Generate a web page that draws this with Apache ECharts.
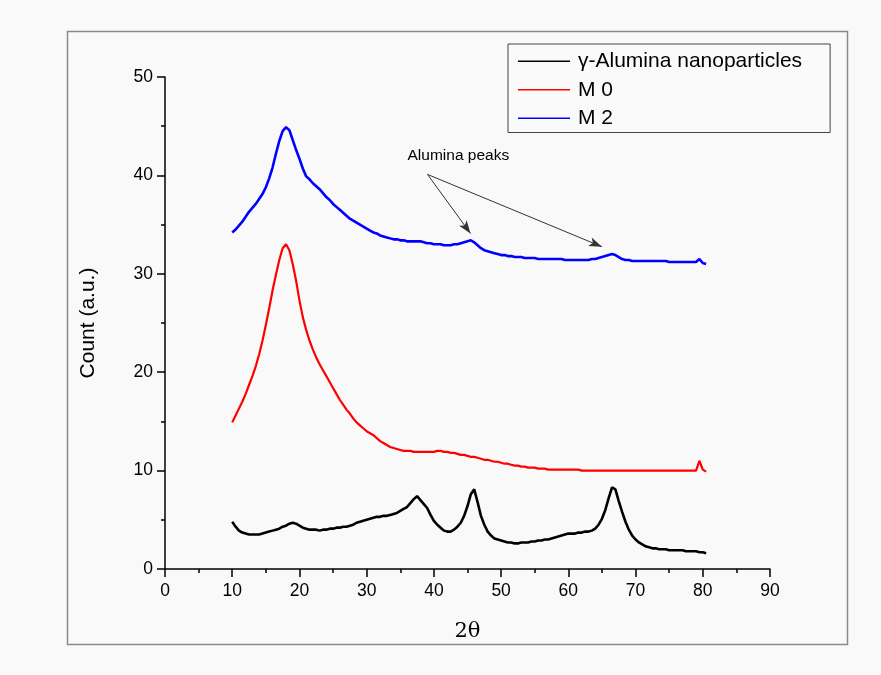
<!DOCTYPE html>
<html>
<head>
<meta charset="utf-8">
<script src="https://cdn.jsdelivr.net/npm/echarts@6/dist/echarts.min.js"></script>
<style>
html,body{margin:0;padding:0;background:#f9f9f9;}
#chart{width:881px;height:675px;}
</style>
</head>
<body>
<div id="chart"></div>
<script>
var twoTheta = [10,10.5,11,11.5,12,12.5,13,13.5,14,14.5,15,15.5,16,16.5,17,17.5,18,18.5,19,19.5,20,20.5,21,21.5,22,22.5,23,23.5,24,24.5,25,25.5,26,26.5,27,27.5,28,28.5,29,29.5,30,30.5,31,31.5,32,32.5,33,33.5,34,34.5,35,35.5,36,36.5,37,37.5,38,38.5,39,39.5,40,40.5,41,41.5,42,42.5,43,43.5,44,44.5,45,45.5,46,46.5,47,47.5,48,48.5,49,49.5,50,50.5,51,51.5,52,52.5,53,53.5,54,54.5,55,55.5,56,56.5,57,57.5,58,58.5,59,59.5,60,60.5,61,61.5,62,62.5,63,63.5,64,64.5,65,65.5,66,66.5,67,67.5,68,68.5,69,69.5,70,70.5,71,71.5,72,72.5,73,73.5,74,74.5,75,75.5,76,76.5,77,77.5,78,78.5,79,79.5,80,80.5];

var gammaAlumina = [4.8,4.3,3.9,3.7,3.6,3.5,3.5,3.5,3.5,3.6,3.7,3.8,3.9,4.0,4.1,4.3,4.4,4.6,4.7,4.6,4.4,4.2,4.1,4.0,4.0,4.0,3.9,4.0,4.0,4.1,4.1,4.2,4.2,4.3,4.3,4.4,4.5,4.7,4.8,4.9,5.0,5.1,5.2,5.3,5.3,5.4,5.4,5.5,5.6,5.7,5.9,6.1,6.3,6.7,7.1,7.4,7.0,6.6,6.2,5.5,4.9,4.5,4.2,3.9,3.8,3.8,4.0,4.3,4.7,5.4,6.4,7.6,8.1,6.8,5.4,4.5,3.8,3.4,3.1,3.0,2.9,2.8,2.7,2.7,2.6,2.6,2.7,2.7,2.7,2.8,2.8,2.9,2.9,3.0,3.0,3.1,3.2,3.3,3.4,3.5,3.6,3.6,3.6,3.7,3.7,3.8,3.8,3.9,4.1,4.5,5.1,6.0,7.2,8.3,8.1,6.9,5.8,4.8,4.0,3.4,3.0,2.7,2.5,2.3,2.2,2.1,2.1,2.0,2.0,2.0,1.9,1.9,1.9,1.9,1.9,1.8,1.8,1.8,1.8,1.7,1.7,1.6];

var m0 = [14.9,15.6,16.3,17.0,17.8,18.7,19.6,20.6,21.8,23.2,24.8,26.5,28.3,29.9,31.4,32.6,33.0,32.4,31.0,29.3,27.3,25.6,24.3,23.2,22.3,21.5,20.8,20.2,19.6,19.0,18.4,17.8,17.2,16.7,16.2,15.8,15.3,14.9,14.6,14.3,14.0,13.8,13.6,13.3,13.0,12.8,12.6,12.4,12.3,12.2,12.1,12.0,12.0,12.0,11.9,11.9,11.9,11.9,11.9,11.9,11.9,12.0,12.0,11.9,11.9,11.8,11.8,11.7,11.6,11.6,11.5,11.4,11.4,11.3,11.2,11.1,11.1,11.0,10.9,10.9,10.8,10.7,10.7,10.6,10.5,10.5,10.4,10.4,10.3,10.3,10.3,10.2,10.2,10.2,10.1,10.1,10.1,10.1,10.1,10.1,10.1,10.1,10.1,10.1,10.0,10.0,10.0,10.0,10.0,10.0,10.0,10.0,10.0,10.0,10.0,10.0,10.0,10.0,10.0,10.0,10.0,10.0,10.0,10.0,10.0,10.0,10.0,10.0,10.0,10.0,10.0,10.0,10.0,10.0,10.0,10.0,10.0,10.0,10.0,11.0,10.1,9.9];

var m2 = [34.2,34.5,34.9,35.3,35.8,36.3,36.7,37.1,37.6,38.1,38.8,39.7,40.8,42.2,43.5,44.5,44.9,44.6,43.6,42.6,41.7,40.7,39.9,39.6,39.2,38.9,38.6,38.2,37.8,37.5,37.1,36.8,36.5,36.2,35.9,35.6,35.4,35.2,35.0,34.8,34.6,34.4,34.2,34.1,33.9,33.8,33.7,33.6,33.5,33.5,33.4,33.4,33.3,33.3,33.3,33.3,33.3,33.2,33.1,33.1,33.0,33.0,33.0,32.9,32.9,32.9,33.0,33.0,33.1,33.2,33.3,33.4,33.2,32.9,32.6,32.4,32.3,32.2,32.1,32.0,31.9,31.9,31.8,31.8,31.7,31.7,31.7,31.6,31.6,31.6,31.6,31.5,31.5,31.5,31.5,31.5,31.5,31.5,31.5,31.4,31.4,31.4,31.4,31.4,31.4,31.4,31.4,31.5,31.5,31.6,31.7,31.8,31.9,32.0,31.9,31.7,31.5,31.4,31.4,31.3,31.3,31.3,31.3,31.3,31.3,31.3,31.3,31.3,31.3,31.3,31.2,31.2,31.2,31.2,31.2,31.2,31.2,31.2,31.2,31.5,31.1,31.0];

var seriesNames = ['\u03b3-Alumina nanoparticles', 'M 0', 'M 2'];
var xTicks = [0,10,20,30,40,50,60,70,80,90];
var yTicks = [0,10,20,30,40,50];
var annotationText = 'Alumina peaks';
var arrowFrom = [39.05, 40.1];
var arrowTips = [[45.45, 34.1], [65.0, 32.75]];

function pairs(xs, ys){ var out=[]; for (var i=0;i<xs.length;i++) out.push([xs[i], ys[i]]); return out; }

var chart = echarts.init(document.getElementById('chart'), null, {renderer:'canvas'});
var font = 'Liberation Sans, Arial, sans-serif';

var option = {
  backgroundColor: '#f9f9f9',
  animation: false,
  textStyle: {fontFamily: font},
  grid: {left: 165, right: 111, top: 77, bottom: 106, containLabel: false},
  legend: {
    orient: 'vertical', left: 508, top: 44,
    data: seriesNames,
    icon: 'rect',
    itemWidth: 52, itemHeight: 1.5, itemGap: 6,
    padding: [6, 28, 3, 10],
    borderColor: '#444', borderWidth: 1, backgroundColor: '#fafafa',
    textStyle: {fontSize: 21, lineHeight: 22.5, color: '#000', fontFamily: font, padding: [0, 0, 0, 3]}
  },
  xAxis: {
    type: 'value', min: 0, max: 90, interval: 10,
    name: '2\u03b8', nameLocation: 'middle', nameGap: 52,
    nameTextStyle: {fontSize: 21, color: '#000', fontFamily: 'DejaVu Serif, serif'},
    axisLine: {show: true, onZero: false, lineStyle: {color: '#000', width: 1.5}},
    axisTick: {show: true, inside: false, length: 8, lineStyle: {color: '#000', width: 1.5}},
    minorTick: {show: true, splitNumber: 2, length: 4, lineStyle: {color: '#000', width: 1.5}},
    axisLabel: {fontSize: 17.5, color: '#000', margin: 13, fontFamily: font},
    splitLine: {show: false}
  },
  yAxis: {
    type: 'value', min: 0, max: 50, interval: 10,
    name: 'Count (a.u.)', nameLocation: 'middle', nameGap: 66,
    nameTextStyle: {fontSize: 21, color: '#000', fontFamily: font},
    axisLine: {show: true, onZero: false, lineStyle: {color: '#000', width: 1.5}},
    axisTick: {show: true, inside: false, length: 8, lineStyle: {color: '#000', width: 1.5}},
    minorTick: {show: true, splitNumber: 2, length: 4, lineStyle: {color: '#000', width: 1.5}},
    axisLabel: {fontSize: 17.5, color: '#000', margin: 12, fontFamily: font},
    splitLine: {show: false}
  },
  series: [
    {name: seriesNames[0], type: 'line', symbol: 'none', data: pairs(twoTheta, gammaAlumina),
     color: '#000000', lineStyle: {color: '#000000', width: 2.6}},
    {name: seriesNames[1], type: 'line', symbol: 'none', data: pairs(twoTheta, m0),
     color: '#ff0000', lineStyle: {color: '#ff0000', width: 2.2}},
    {name: seriesNames[2], type: 'line', symbol: 'none', data: pairs(twoTheta, m2),
     color: '#0000ff', lineStyle: {color: '#0000ff', width: 2.6},
     markLine: {
       silent: true, animation: false,
       symbol: ['none', 'arrow'], symbolSize: [7, 13],
       label: {show: false},
       lineStyle: {color: '#333', width: 1, type: 'solid'},
       data: arrowTips.map(function(t){ return [{coord: arrowFrom}, {coord: t}]; })
     }}
  ]
};
chart.setOption(option);

var p = chart.convertToPixel({gridIndex: 0}, arrowFrom);
chart.setOption({
  graphic: [
    {type: 'rect', left: 65, top: 29, shape: {width: 780, height: 613},
     style: {fill: 'none', stroke: '#8a8a8a', lineWidth: 1.5}, silent: true, z: 0},
    {type: 'text', left: p[0] - 20, top: p[1] - 27,
     style: {text: annotationText, fill: '#000', font: '15.5px Liberation Sans, Arial, sans-serif'}}
  ]
});
</script>
</body>
</html>
